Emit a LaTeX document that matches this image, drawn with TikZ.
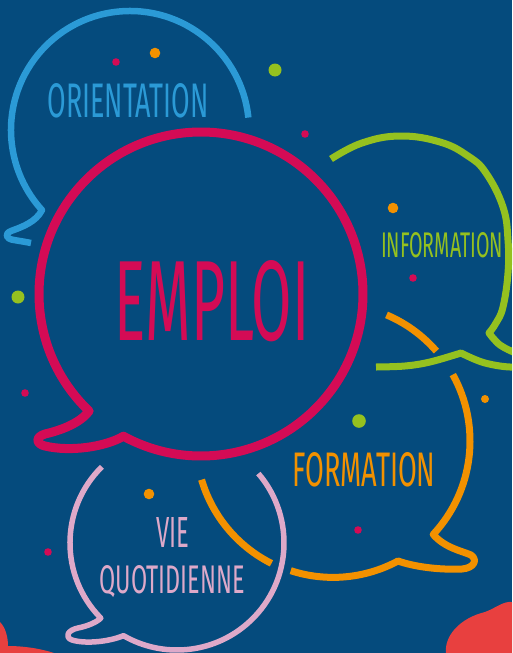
\documentclass[tikz,border=0pt]{standalone}
\usepackage{fontspec}
\usepackage{graphicx}
\newfontfamily\handfont{Fira Sans}
\definecolor{bg}{HTML}{054B7D}
\definecolor{cmag}{HTML}{D40B55}
\definecolor{cblue}{HTML}{2B9AD6}
\definecolor{cgreen}{HTML}{95C11F}
\definecolor{corange}{HTML}{F29100}
\definecolor{cpink}{HTML}{DEA9C9}
\definecolor{cred}{HTML}{E8403F}
\begin{document}
\begin{tikzpicture}[x=1pt,y=-1pt,line join=round,
  lbl/.style={inner sep=0pt,anchor=base,font=\handfont}]
\fill[bg] (0,0) rectangle (512,653);
\useasboundingbox (0,0) rectangle (512,653);
\clip (0,0) rectangle (512,653);

% red blobs
\fill[cred] (0,622) .. controls (6,628) and (8,638) .. (8,646) .. controls (25,646) and (42,649) .. (54,653) -- (0,653) -- cycle;
\fill[cred] (446,653) .. controls (444,636) and (460,618) .. (485,612) .. controls (496,608) and (503,601) .. (512,602) -- (512,653) -- cycle;

% ORIENTATION bubble
\draw[cblue,line width=6.5] (130,130) ++(-6:119) arc[start angle=-6,end angle=-222.3,radius=119]
  .. controls (36,222) and (22,227) .. (11,231) .. controls (4,234) and (6,239) .. (14,240)
  .. controls (20,241) and (26,242) .. (31,243);

% INFORMATION bubble
\draw[cgreen,line width=7] plot[smooth,tension=0.7] coordinates {(331,159) (362,143) (400,136) (440,142) (468,156) (486,173) (503,207) (508,240) (508,273) (503,307) (496,323) (489,333)}
  -- plot[smooth,tension=0.6] coordinates {(489,333) (500,345) (518,354) (536,360) (515,367) (485,363) (461,353)}
  -- plot[smooth,tension=0.6] coordinates {(461,353) (430,362) (405,366) (376,367)};

% FORMATION bubble
\draw[corange,line width=7] (333,441) ++(-67:137) arc[start angle=-67,end angle=-41,radius=137];
\draw[corange,line width=7] (333,441) ++(-29:137) arc[start angle=-29,end angle=43,radius=137]
  .. controls (445,548) and (462,551) .. (471,555) .. controls (478,560) and (474,568) .. (462,569)
  .. controls (440,570) and (415,567) .. (398,561) arc[start angle=61.7,end angle=108,radius=137];
\draw[corange,line width=7] (333,441) ++(163.6:137) arc[start angle=163.6,end angle=116.7,radius=137];

% VIE QUOTIDIENNE bubble
\draw[cpink,line width=5.5] (177,543) ++(-40.5:107) arc[start angle=-40.5,end angle=120,radius=107]
  .. controls (108,642) and (85,644) .. (72,640) .. controls (64,637) and (68,630) .. (78,628)
  .. controls (88,626) and (97,622) .. (100.8,618.1) arc[start angle=135.4,end angle=225.4,radius=107];

% EMPLOI bubble
\draw[cmag,line width=9] (201,294) ++(133.7:162) arc[start angle=133.7,end angle=478.6,radius=162]
  .. controls (105,447) and (70,452) .. (45,446) .. controls (36,444) and (35,437) .. (45,434)
  .. controls (62,430) and (80,423) .. (89.1,411.1) -- cycle;

% dots
\fill[cmag] (116,62) circle[radius=3.8];
\fill[corange] (155,53) circle[radius=5.3];
\fill[cgreen] (275,70) circle[radius=6.5];
\fill[cmag] (305,134) circle[radius=3.8];
\fill[corange] (393,208) circle[radius=5.3];
\fill[cmag] (413,278) circle[radius=3.8];
\fill[cgreen] (18,297) circle[radius=6.5];
\fill[cmag] (25,393) circle[radius=3.8];
\fill[cgreen] (359,421) circle[radius=6.8];
\fill[corange] (485,399) circle[radius=4];
\fill[cmag] (358,530) circle[radius=3.8];
\fill[corange] (149,494) circle[radius=5.3];
\fill[cmag] (48,552) circle[radius=3.8];

% labels
\node[lbl,text=cblue] (orient) at (128,117) {\resizebox{161pt}{34pt}{ORIENTATION}};
\node[lbl,text=cgreen] (inform) at (442,257) {\resizebox{122pt}{25pt}{INFORMATION}};
\node[lbl,text=cmag] (emploi) at (212,340) {\resizebox{195pt}{80pt}{EMPLOI}};
\node[lbl,text=corange] (format) at (364,486) {\resizebox{143pt}{34pt}{FORMATION}};
\node[lbl,text=cpink] (vie) at (173,547) {\resizebox{33pt}{30pt}{VIE}};
\node[lbl,text=cpink] (quot) at (172,593) {\resizebox{145pt}{28pt}{QUOTIDIENNE}};
\end{tikzpicture}
\end{document}
